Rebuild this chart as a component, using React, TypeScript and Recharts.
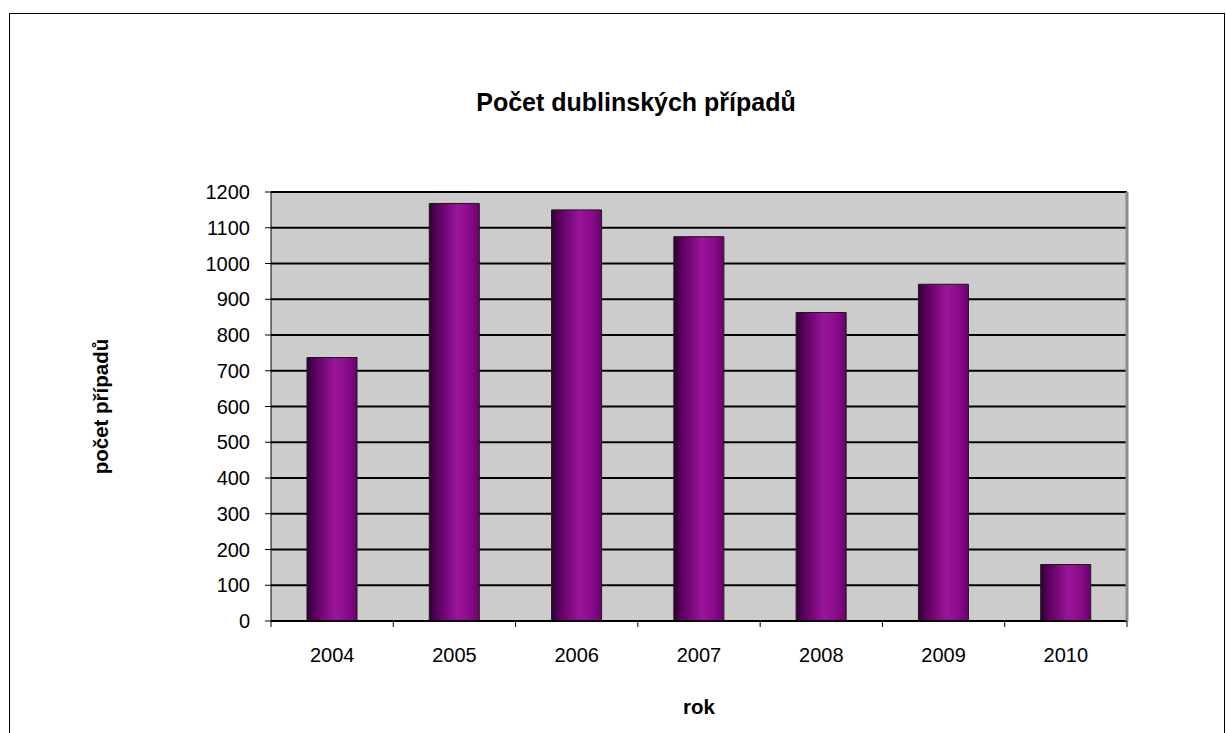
import { Bar, BarChart, CartesianGrid, Label, XAxis, YAxis } from "recharts";

const years = ["2004", "2005", "2006", "2007", "2008", "2009", "2010"];
const cases = [737, 1168, 1150, 1075, 863, 942, 158];
const yTicks = [0, 100, 200, 300, 400, 500, 600, 700, 800, 900, 1000, 1100, 1200];

const data = years.map((year, i) => ({ year, cases: cases[i] }));

const FONT = "'Liberation Sans', Arial, sans-serif";

// category label plus Excel-style tick marks between the categories
function YearTick(props: any) {
  const { x, y, payload, index, visibleTicksCount } = props;
  const half = payload.offset ?? 61;
  const top = 621;
  return (
    <g>
      <line x1={x - half} y1={top} x2={x - half} y2={top + 6} stroke="#000" />
      {index === visibleTicksCount - 1 && (
        <line x1={x + half} y1={top} x2={x + half} y2={top + 6} stroke="#000" />
      )}
      <text
        x={x}
        y={y + 33}
        textAnchor="middle"
        fontSize={20}
        fontFamily={FONT}
        fill="#000"
      >
        {payload.value}
      </text>
    </g>
  );
}

export default function App() {
  return (
    <div
      style={{
        position: "absolute",
        left: 0,
        top: 0,
        width: 1226,
        height: 733,
        background: "#fff",
      }}
    >
      <div
        style={{
          position: "absolute",
          left: 9,
          top: 13,
          width: 1214,
          height: 740,
          border: "1px solid #000",
        }}
      />
      <div
        style={{
          position: "absolute",
          left: 0,
          top: 88,
          width: 1272,
          textAlign: "center",
          fontFamily: FONT,
          fontWeight: "bold",
          fontSize: 25,
        }}
      >
        Počet dublinských případů
      </div>
      <div style={{ position: "absolute", left: 0, top: 0 }}>
        <BarChart
          width={1226}
          height={733}
          data={data}
          margin={{ top: 192, right: 98, left: 0, bottom: 2 }}
          barSize={50}
        >
          <defs>
            <linearGradient id="barFill" x1="0" y1="0" x2="1" y2="0">
              <stop offset="0%" stopColor="#2e0032" />
              <stop offset="15%" stopColor="#58005c" />
              <stop offset="55%" stopColor="#9a149a" />
              <stop offset="80%" stopColor="#8a0c8a" />
              <stop offset="100%" stopColor="#6c006c" />
            </linearGradient>
          </defs>
          <CartesianGrid
            vertical={false}
            stroke="#000"
            strokeWidth={2}
            fill="#cccccc"
            fillOpacity={1}
          />
          <XAxis
            dataKey="year"
            height={110}
            interval={0}
            tickLine={false}
            axisLine={{ stroke: "#000", strokeWidth: 2 }}
            tick={<YearTick />}
          >
            <Label
              value="rok"
              position="insideBottom"
              offset={17}
              style={{ fontFamily: FONT, fontWeight: "bold", fontSize: 20.5, fill: "#000" }}
            />
          </XAxis>
          <YAxis
            width={271}
            domain={[0, 1200]}
            ticks={yTicks}
            interval={0}
            tickSize={6}
            tickMargin={15}
            tickLine={{ stroke: "#000" }}
            axisLine={{ stroke: "#000" }}
            tick={{ fontSize: 20, fontFamily: FONT, fill: "#000" }}
          >
            <Label
              value="počet případů"
              position="center"
              angle={-90}
              dx={-35}
              style={{ fontFamily: FONT, fontWeight: "bold", fontSize: 20.5, fill: "#000" }}
            />
          </YAxis>
          <YAxis
            yAxisId="right"
            orientation="right"
            width={1}
            domain={[0, 1200]}
            tick={false}
            tickLine={false}
            axisLine={{ stroke: "#8c8c8c", strokeWidth: 3 }}
          />
          <Bar
            dataKey="cases"
            fill="url(#barFill)"
            stroke="#1a1a1a"
            strokeWidth={1}
            isAnimationActive={false}
          />
        </BarChart>
      </div>
    </div>
  );
}
